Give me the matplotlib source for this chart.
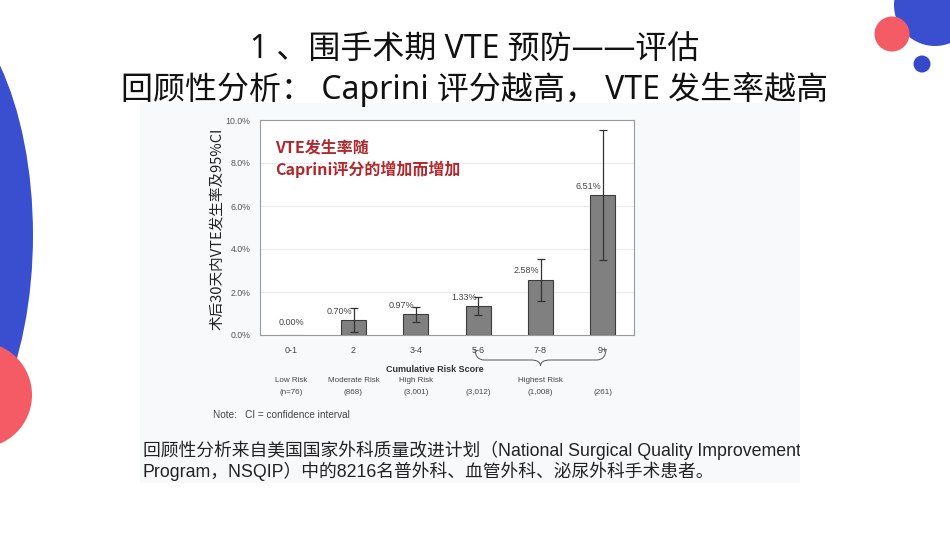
import numpy as np
import matplotlib
matplotlib.use("Agg")
import matplotlib.pyplot as plt
from matplotlib.patches import Ellipse, Circle, Rectangle, PathPatch
from matplotlib.path import Path
from matplotlib.transforms import blended_transform_factory

plt.rcParams['font.family'] = ['Noto Sans CJK SC', 'DejaVu Sans']

# data
scores = ['0-1', '2', '3-4', '5-6', '7-8', '9+']
rates = [0.00, 0.70, 0.97, 1.33, 2.58, 6.51]
ci_low = [0.00, 0.13, 0.62, 0.93, 1.60, 3.50]
ci_high = [0.00, 1.27, 1.32, 1.75, 3.55, 9.53]
risk_names = ['Low Risk', 'Moderate Risk', 'High Risk', '', 'Highest Risk', '']
risk_counts = ['(n=76)', '(868)', '(3,001)', '(3,012)', '(1,008)', '(261)']
yticks = [0, 2, 4, 6, 8, 10]

W, H = 950, 535
fig = plt.figure(figsize=(W / 100, H / 100), dpi=100)
fig.patch.set_facecolor('white')


def box(x0, y0, x1, y1):
    # pixel box (top-left origin) -> figure fraction rect
    return [x0 / W, 1 - y1 / H, (x1 - x0) / W, (y1 - y0) / H]


def fy(py):
    return 1 - py / H


# background layer for decorations
bg = fig.add_axes([0, 0, 1, 1])
bg.set_xlim(0, W)
bg.set_ylim(H, 0)
bg.axis('off')
bg.add_patch(Ellipse((-80, 235), 226, 480, color='#3a4fd0', lw=0))
bg.add_patch(Circle((-21, 395), 53, color='#f45b64', lw=0))
bg.add_patch(Circle((935, 5), 41, color='#3a4fd0', lw=0))
bg.add_patch(Circle((892, 34), 17.5, color='#f45b64', lw=0))
bg.add_patch(Circle((922, 64), 8.5, color='#3548c8', lw=0))
# pasted chart image area
bg.add_patch(Rectangle((140, 103), 660, 380, color='#f8f9fb', lw=0))

title_font = ['Noto Sans', 'Noto Sans CJK SC']
bg.text(475, 49, '1 、围手术期 VTE 预防——评估', fontsize=23, family=title_font,
        ha='center', va='center', color='#111111')
bg.text(475, 89, '回顾性分析： Caprini 评分越高， VTE 发生率越高', fontsize=23,
        family=title_font, ha='center', va='center', color='#111111')

# main chart
ax = fig.add_axes(box(260, 120, 634, 335))
ax.set_facecolor('white')
x = np.arange(len(scores))
err = [np.array(rates) - np.array(ci_low), np.array(ci_high) - np.array(rates)]
ax.bar(x, rates, width=0.4, color='#808080', edgecolor='#3c3c3c', lw=0.8, zorder=3)
for i in range(1, len(x)):
    ax.errorbar(x[i], rates[i], yerr=[[err[0][i]], [err[1][i]]], fmt='none',
                ecolor='#333333', elinewidth=0.9, capsize=3, capthick=0.9, zorder=4)
for i, v in enumerate(rates):
    if v == 0:
        ax.annotate(f'{v:.2f}%', (x[i], v), xytext=(0, 6), textcoords='offset points',
                    ha='center', va='bottom', fontsize=6.5, color='#444444',
                    family='Liberation Sans')
    else:
        ax.annotate(f'{v:.2f}%', (x[i] - 0.02, v), xytext=(0, 3), textcoords='offset points',
                    ha='right', va='bottom', fontsize=6.5, color='#444444',
                    family='Liberation Sans')

ax.set_xlim(-0.5, 5.5)
ax.set_ylim(0, 10)
ax.set_yticks(yticks)
ax.set_yticklabels([f'{t:.1f}%' for t in yticks], fontsize=6.3, color='#555555',
                   family='Liberation Sans')
ax.set_xticks(x)
ax.set_xticklabels(scores, fontsize=6.5, color='#444444', family='Liberation Sans')
ax.tick_params(length=0)
ax.tick_params(axis='x', pad=8)
ax.tick_params(axis='y', pad=7)
ax.grid(axis='y', color='#e6e6e6', lw=0.6, zorder=0)
for s in ax.spines.values():
    s.set_color('#9a9a9a')
    s.set_linewidth(0.8)

ax.text(0.04, 0.91, 'VTE发生率随\nCaprini评分的增加而增加', transform=ax.transAxes,
        fontsize=11.5, fontweight='bold', color='#b2272c', va='top', ha='left',
        linespacing=1.35)

fig.text(217 / W, fy(229), '术后30天内VTE发生率及95%CI', rotation=90,
         fontsize=10.5, ha='center', va='center', color='#222222')

# labels under the axis, x in data units, y in figure fraction
tr = blended_transform_factory(ax.transData, fig.transFigure)

ax.text(2.3, fy(369), 'Cumulative Risk Score', transform=tr, fontsize=6.5,
        fontweight='bold', ha='center', va='center', color='#333333',
        family='Liberation Sans')
for i in range(len(scores)):
    if risk_names[i]:
        ax.text(x[i], fy(380), risk_names[i], transform=tr, fontsize=5.8,
                ha='center', va='center', color='#444444', family='Liberation Sans')
    ax.text(x[i], fy(392), risk_counts[i], transform=tr, fontsize=5.8,
            ha='center', va='center', color='#444444', family='Liberation Sans')

# curly brace over 5-6 .. 9+
xa, xb = 2.95, 5.05
xm = (xa + xb) / 2
y0, y1, y2 = fy(349), fy(360), fy(366)
verts = [(xa, y0), (xa, y1), (xa + 0.15, y1),
         (xm - 0.15, y1), (xm, y1), (xm, y2),
         (xm, y1), (xm + 0.15, y1),
         (xb - 0.15, y1), (xb, y1), (xb, y0)]
codes = [Path.MOVETO, Path.CURVE3, Path.CURVE3,
         Path.LINETO, Path.CURVE3, Path.CURVE3,
         Path.CURVE3, Path.CURVE3,
         Path.LINETO, Path.CURVE3, Path.CURVE3]
ax.add_patch(PathPatch(Path(verts, codes), transform=tr, fill=False,
                       edgecolor='#555555', lw=0.7, clip_on=False))

fig.text(213 / W, fy(415), 'Note:   CI = confidence interval', fontsize=7.2,
         ha='left', va='center', color='#444444', family='Liberation Sans')

body_font = ['Liberation Sans', 'Noto Sans CJK SC']
t1 = fig.text(143 / W, fy(450), '回顾性分析来自美国国家外科质量改进计划（National Surgical Quality Improvement',
              fontsize=12.8, family=body_font, ha='left', va='center', color='#222222')
t2 = fig.text(143 / W, fy(471), 'Program，NSQIP）中的8216名普外科、血管外科、泌尿外科手术患者。',
              fontsize=12.8, family=body_font, ha='left', va='center', color='#222222')
clip = Rectangle((140, 103), 660, 380, transform=bg.transData)
t1.set_clip_path(clip)

fig.savefig('out.png', dpi=100)
